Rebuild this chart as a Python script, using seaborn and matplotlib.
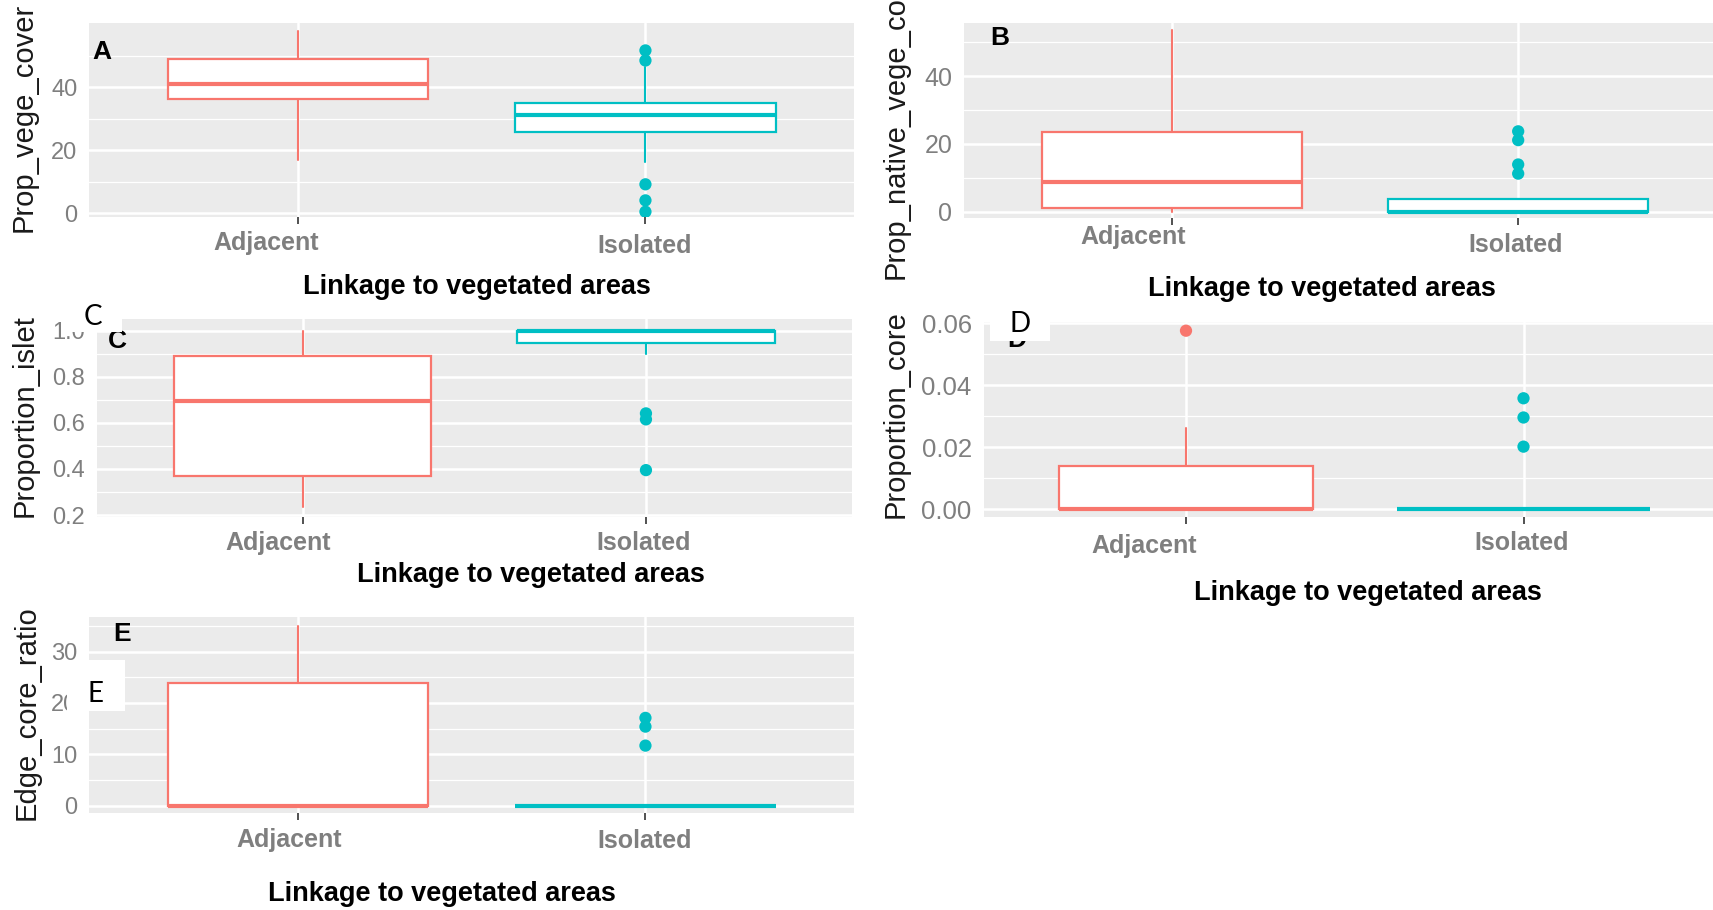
import matplotlib
matplotlib.use("Agg")
import matplotlib.pyplot as plt
import seaborn as sns
from matplotlib.patches import Rectangle

# ---------------------------------------------------------------- data
groups = ["Adjacent", "Isolated"]
palette = ["#F8766D", "#00BFC4"]
x_title = "Linkage to vegetated areas"

# A: Prop_vege_cover
a_whislo = [16.9, 16.2]
a_q1 = [36.3, 25.7]
a_med = [40.9, 31.1]
a_q3 = [49.1, 35.1]
a_whishi = [58.0, 46.5]
a_out_group = ["Isolated"] * 5
a_out_value = [51.7, 48.5, 9.2, 4.1, 0.5]

# B: Prop_native_vege_cover
b_whislo = [0.0, 0.0]
b_q1 = [1.0, 0.0]
b_med = [8.8, 0.0]
b_q3 = [23.4, 3.6]
b_whishi = [53.6, 3.6]
b_out_group = ["Isolated"] * 4
b_out_value = [23.7, 21.1, 13.9, 11.2]

# C: Proportion_islet
c_whislo = [0.233, 0.90]
c_q1 = [0.371, 0.945]
c_med = [0.696, 1.0]
c_q3 = [0.890, 1.0]
c_whishi = [1.0, 1.0]
c_out_group = ["Isolated"] * 3
c_out_value = [0.641, 0.615, 0.395]

# D: Proportion_core
d_whislo = [0.0, 0.0]
d_q1 = [0.0, 0.0]
d_med = [0.0, 0.0]
d_q3 = [0.0141, 0.0]
d_whishi = [0.0261, 0.0]
d_out_group = ["Adjacent", "Isolated", "Isolated", "Isolated"]
d_out_value = [0.0576, 0.0358, 0.0296, 0.0202]

# E: Edge_core_ratio
e_whislo = [0.0, 0.0]
e_q1 = [0.0, 0.0]
e_med = [0.0, 0.0]
e_q3 = [23.8, 0.0]
e_whishi = [34.9, 0.0]
e_out_group = ["Isolated"] * 3
e_out_value = [17.1, 15.4, 11.7]

# ---------------------------------------------------------------- style
sns.set_theme(style="darkgrid")
plt.rcParams["font.family"] = ["Liberation Sans", "DejaVu Sans"]

W, H = 1713, 910
fig = plt.figure(figsize=(W / 100, H / 100), dpi=100)
fig.patch.set_facecolor("white")

PANEL_BG = "#EBEBEB"
TICK_GRAY = "#7F7F7F"


def fx(px):
    return px / W


def fy(py):
    return 1 - py / H


def add_axes_px(left, top, right, bottom):
    return fig.add_axes([fx(left), fy(bottom), (right - left) / W, (bottom - top) / H])


def draw_panel(spec):
    ax = add_axes_px(*spec["box"])
    ax.set_facecolor(PANEL_BG)
    ax.set_axisbelow(True)
    for s in ax.spines.values():
        s.set_visible(False)

    stats = [
        dict(whislo=spec["whislo"][i], q1=spec["q1"][i], med=spec["med"][i],
             q3=spec["q3"][i], whishi=spec["whishi"][i], fliers=[])
        for i in range(len(groups))
    ]
    bp = ax.bxp(stats, positions=list(range(len(groups))), widths=0.75,
                patch_artist=True, showfliers=False, showcaps=False)
    for i, col in enumerate(palette):
        bp["boxes"][i].set(facecolor="white", edgecolor=col, linewidth=1.6, zorder=2)
        bp["medians"][i].set(color=col, linewidth=3.0, solid_capstyle="butt", zorder=2.5)
        for w in bp["whiskers"][2 * i:2 * i + 2]:
            w.set(color=col, linewidth=1.5, zorder=1.9)

    out_x = [groups.index(g) for g in spec["out_group"]]
    sns.scatterplot(x=out_x, y=spec["out_value"], hue=spec["out_group"],
                    palette=dict(zip(groups, palette)), s=78, linewidth=0,
                    legend=False, ax=ax, zorder=3)

    ax.set_xlim(-0.6, len(groups) - 0.4)
    ax.set_ylim(*spec["ylim"])
    ax.set_xticks(range(len(groups)))
    ax.set_xticklabels([""] * len(groups))
    ax.set_yticks(spec["major"])
    ax.set_yticklabels(spec["labels"])
    ax.set_yticks(spec["minor"], minor=True)
    ax.set_xlabel("")
    ax.set_ylabel("")
    ax.grid(which="major", color="white", linewidth=1.8)
    ax.grid(which="minor", axis="y", color="white", linewidth=0.9)
    ax.tick_params(which="major", length=5, width=1.2, color="#333333", pad=3.5,
                   labelsize=spec["ytick_size"], labelcolor=TICK_GRAY)
    ax.tick_params(which="minor", length=0)
    ax.tick_params(axis="x", bottom=True, length=5)

    # category names under the ticks
    for name, (cx, cy) in zip(groups, spec["xtick_pos"]):
        fig.text(fx(cx), fy(cy), name, ha="center", va="center",
                 fontsize=18, fontweight="bold", color=TICK_GRAY)
    # axis titles
    fig.text(fx(spec["xlabel_pos"][0]), fy(spec["xlabel_pos"][1]), x_title,
             ha="center", va="center", fontsize=19.5, fontweight="bold", color="black")
    fig.text(fx(spec["ylabel_pos"][0]), fy(spec["ylabel_pos"][1]), spec["ylabel"],
             rotation=90, ha="left", va="bottom", fontsize=21, color="#1A1A1A")
    # panel tag
    fig.text(fx(spec["tag_pos"][0]), fy(spec["tag_pos"][1]), spec["tag"],
             ha="center", va="baseline", fontsize=19, fontweight="bold", color="black")
    return ax


panels = [
    dict(tag="A", ylabel="Prop_vege_cover", box=(89.3, 22.7, 854, 216.7),
         ylim=(-1.08, 60.5), major=[0, 20, 40], minor=[10, 30, 50],
         labels=["0", "20", "40"], ytick_size=17,
         whislo=a_whislo, q1=a_q1, med=a_med, q3=a_q3, whishi=a_whishi,
         out_group=a_out_group, out_value=a_out_value,
         xtick_pos=[(266, 243), (644.5, 246)], xlabel_pos=(477, 287),
         ylabel_pos=(10, 232), tag_pos=(101.5, 59.3)),
    dict(tag="B", ylabel="Prop_native_vege_cover", box=(964, 22.7, 1726, 218.3),
         ylim=(-2.0, 55.8), major=[0, 20, 40], minor=[10, 30, 50],
         labels=["0", "20", "40"], ytick_size=18,
         whislo=b_whislo, q1=b_q1, med=b_med, q3=b_q3, whishi=b_whishi,
         out_group=b_out_group, out_value=b_out_value,
         xtick_pos=[(1133.5, 237), (1516, 245)], xlabel_pos=(1322, 289),
         ylabel_pos=(882, 279), tag_pos=(1000, 45)),
    dict(tag="C", ylabel="Proportion_islet", box=(96.5, 319.3, 852, 516.7),
         ylim=(0.193, 1.049), major=[0.2, 0.4, 0.6, 0.8, 1.0], minor=[0.3, 0.5, 0.7, 0.9],
         labels=["0.2", "0.4", "0.6", "0.8", "1.0"], ytick_size=17,
         whislo=c_whislo, q1=c_q1, med=c_med, q3=c_q3, whishi=c_whishi,
         out_group=c_out_group, out_value=c_out_value,
         xtick_pos=[(278, 543), (644, 542.5)], xlabel_pos=(531, 575),
         ylabel_pos=(11, 516.7), tag_pos=(117.5, 348)),
    dict(tag="D", ylabel="Proportion_core", box=(983.5, 321.7, 1726, 516.7),
         ylim=(-0.0024, 0.0605), major=[0.0, 0.02, 0.04, 0.06], minor=[0.01, 0.03, 0.05],
         labels=["0.00", "0.02", "0.04", "0.06"], ytick_size=18.5,
         whislo=d_whislo, q1=d_q1, med=d_med, q3=d_q3, whishi=d_whishi,
         out_group=d_out_group, out_value=d_out_value,
         xtick_pos=[(1144, 546), (1522, 543)], xlabel_pos=(1367.5, 593),
         ylabel_pos=(882, 518), tag_pos=(1016.5, 347)),
    dict(tag="E", ylabel="Edge_core_ratio", box=(89.3, 616.7, 854, 813.3),
         ylim=(-1.48, 36.8), major=[0, 10, 20, 30], minor=[5, 15, 25, 35],
         labels=["0", "10", "20", "30"], ytick_size=17,
         whislo=e_whislo, q1=e_q1, med=e_med, q3=e_q3, whishi=e_whishi,
         out_group=e_out_group, out_value=e_out_value,
         xtick_pos=[(289, 840), (644.5, 841)], xlabel_pos=(441.5, 894),
         ylabel_pos=(13, 820), tag_pos=(122.5, 640.7)),
]

for p in panels:
    draw_panel(p)

# white label boxes pasted over the lower panels
overlay_tags = [
    ("C", (68, 296, 121.7, 331.5), (92.5, 325)),
    ("D", (990, 300, 1050, 341), (1020, 331.7)),
    ("E", (66.7, 660, 125, 710.7), (96, 701.7)),
]
for text, (l, t, r, b), (tx, ty) in overlay_tags:
    fig.patches.append(Rectangle((fx(l), fy(b)), (r - l) / W, (b - t) / H,
                                 transform=fig.transFigure, facecolor="white",
                                 edgecolor="none", zorder=5))
    fig.text(fx(tx), fy(ty), text, ha="center", va="baseline", fontsize=20,
             family=["Lato", "DejaVu Sans"], color="black", zorder=6)

fig.savefig("out.png", dpi=100, facecolor="white")
